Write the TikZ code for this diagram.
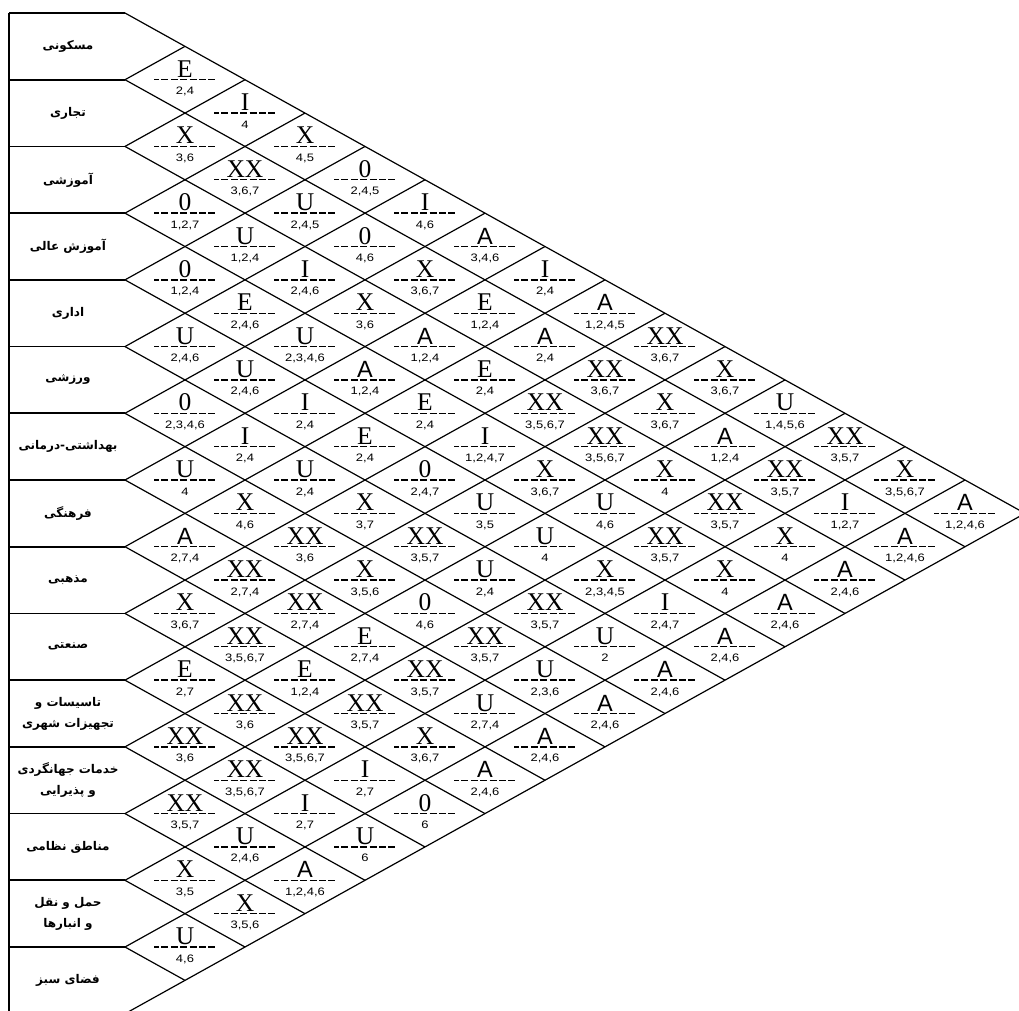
\documentclass[tikz,border=0pt]{standalone}
\usepackage{fontspec}
\setmainfont{Liberation Serif}
\newfontfamily\serifL{Liberation Serif}
\newfontfamily\sansL{Liberation Sans}
\newfontfamily\numL[FakeStretch=1.2]{Liberation Sans}
\newfontfamily\arabicfont[Script=Arabic]{DejaVu Sans}
\TeXXeTstate=1
\newcommand\LetA{{\sansL\fontsize{23.5}{24}\selectfont A}}
\tikzset{
  gridline/.style={line width=1.2pt, black},
  rowline/.style={line width=1.8pt, black},
  dashline/.style={line width=1.4pt, black, dash pattern=on 7pt off 2.4pt, dash phase=2pt},
  letter/.style={font=\serifL\fontsize{25.5}{26}\selectfont, inner sep=0pt},
  nums/.style={font=\numL\fontsize{10.8}{11}\selectfont, inner sep=0pt},
  lab/.style={font=\arabicfont\bfseries\fontsize{12}{21}\selectfont, align=center, inner sep=0pt}
}
\begin{document}
\begin{tikzpicture}[x=1pt,y=-1pt]
\useasboundingbox (0,0) rectangle (1019,1010);
\fill[white] (0,0) rectangle (1019,1010);
\clip (0,0) rectangle (1019,1010);
\def\xo{125}\def\hw{60}\def\pp{66.714}\def\yt{13}\def\xl{9}
% left vertices of the grid
\foreach \k in {0,...,15}{
  \coordinate (b\k) at (\xo,{\yt+\k*\pp});
  \coordinate (w\k) at (\xl,{\yt+\k*\pp});
}
% row lines and left border
\foreach \k in {0,...,15}{ \draw[rowline] (w\k) -- (b\k); }
\draw[rowline] (w0) -- (w15);
% diagonal grid
\foreach \k in {0,...,15}{
  \pgfmathsetmacro\dn{15-\k}
  \draw[gridline] (b\k) -- ++({\dn*\hw},{\dn*\pp/2});
  \draw[gridline] (b\k) -- ++({\k*\hw},{-\k*\pp/2});
}
% row labels
\foreach \r/\t in {
 1/{\beginR مسکونی\endR},
 2/{\beginR تجاری\endR},
 3/{\beginR آموزشی\endR},
 4/{\beginR آموزش عالی\endR},
 5/{\beginR اداری\endR},
 6/{\beginR ورزشی\endR},
 7/{\beginR بهداشتی-درمانی\endR},
 8/{\beginR فرهنگی\endR},
 9/{\beginR مذهبی\endR},
 10/{\beginR صنعتی\endR},
 11/{\beginR تاسیسات و\endR\\\beginR تجهیزات شهری\endR},
 12/{\beginR خدمات جهانگردی\endR\\\beginR و پذیرایی\endR},
 13/{\beginR مناطق نظامی\endR},
 14/{\beginR حمل و نقل\endR\\\beginR و انبارها\endR},
 15/{\beginR فضای سبز\endR}}{
  \node[lab] (r\r) at (68,{\yt+(\r-0.5)*\pp}) {\t};
}
% relationship diamonds
\foreach \ra/\rb/\Lx/\Nx in {
1/2/E/{2,4}, 2/3/X/{3,6}, 3/4/0/{1,2,7}, 4/5/0/{1,2,4}, 5/6/U/{2,4,6}, 6/7/0/{2,3,4,6}, 7/8/U/{4}, 8/9/\LetA/{2,7,4}, 9/10/X/{3,6,7}, 10/11/E/{2,7}, 11/12/XX/{3,6}, 12/13/XX/{3,5,7}, 13/14/X/{3,5}, 14/15/U/{4,6},
1/3/I/{4}, 2/4/XX/{3,6,7}, 3/5/U/{1,2,4}, 4/6/E/{2,4,6}, 5/7/U/{2,4,6}, 6/8/I/{2,4}, 7/9/X/{4,6}, 8/10/XX/{2,7,4}, 9/11/XX/{3,5,6,7}, 10/12/XX/{3,6}, 11/13/XX/{3,5,6,7}, 12/14/U/{2,4,6}, 13/15/X/{3,5,6},
1/4/X/{4,5}, 2/5/U/{2,4,5}, 3/6/I/{2,4,6}, 4/7/U/{2,3,4,6}, 5/8/I/{2,4}, 6/9/U/{2,4}, 7/10/XX/{3,6}, 8/11/XX/{2,7,4}, 9/12/E/{1,2,4}, 10/13/XX/{3,5,6,7}, 11/14/I/{2,7}, 12/15/\LetA/{1,2,4,6},
1/5/0/{2,4,5}, 2/6/0/{4,6}, 3/7/X/{3,6}, 4/8/\LetA/{1,2,4}, 5/9/E/{2,4}, 6/10/X/{3,7}, 7/11/X/{3,5,6}, 8/12/E/{2,7,4}, 9/13/XX/{3,5,7}, 10/14/I/{2,7}, 11/15/U/{6},
1/6/I/{4,6}, 2/7/X/{3,6,7}, 3/8/\LetA/{1,2,4}, 4/9/E/{2,4}, 5/10/0/{2,4,7}, 6/11/XX/{3,5,7}, 7/12/0/{4,6}, 8/13/XX/{3,5,7}, 9/14/X/{3,6,7}, 10/15/0/{6},
1/7/\LetA/{3,4,6}, 2/8/E/{1,2,4}, 3/9/E/{2,4}, 4/10/I/{1,2,4,7}, 5/11/U/{3,5}, 6/12/U/{2,4}, 7/13/XX/{3,5,7}, 8/14/U/{2,7,4}, 9/15/\LetA/{2,4,6},
1/8/I/{2,4}, 2/9/\LetA/{2,4}, 3/10/XX/{3,5,6,7}, 4/11/X/{3,6,7}, 5/12/U/{4}, 6/13/XX/{3,5,7}, 7/14/U/{2,3,6}, 8/15/\LetA/{2,4,6},
1/9/\LetA/{1,2,4,5}, 2/10/XX/{3,6,7}, 3/11/XX/{3,5,6,7}, 4/12/U/{4,6}, 5/13/X/{2,3,4,5}, 6/14/U/{2}, 7/15/\LetA/{2,4,6},
1/10/XX/{3,6,7}, 2/11/X/{3,6,7}, 3/12/X/{4}, 4/13/XX/{3,5,7}, 5/14/I/{2,4,7}, 6/15/\LetA/{2,4,6},
1/11/X/{3,6,7}, 2/12/\LetA/{1,2,4}, 3/13/XX/{3,5,7}, 4/14/X/{4}, 5/15/\LetA/{2,4,6},
1/12/U/{1,4,5,6}, 2/13/XX/{3,5,7}, 3/14/X/{4}, 4/15/\LetA/{2,4,6},
1/13/XX/{3,5,7}, 2/14/I/{1,2,7}, 3/15/\LetA/{2,4,6},
1/14/X/{3,5,6,7}, 2/15/\LetA/{1,2,4,6},
1/15/\LetA/{1,2,4,6}}{
  \pgfmathsetmacro\cx{\xo+(\rb-\ra)*\hw}
  \pgfmathsetmacro\cy{\yt+(\ra+\rb-1)*\pp/2}
  \draw[dashline] (\cx-31,\cy) -- (\cx+31,\cy);
  \node[letter, anchor=base] (d-\ra-\rb) at (\cx,\cy-2.5) {\Lx};
  \node[nums, anchor=base] (n-\ra-\rb) at (\cx,\cy+15) {\Nx};
}
\end{tikzpicture}
\end{document}
